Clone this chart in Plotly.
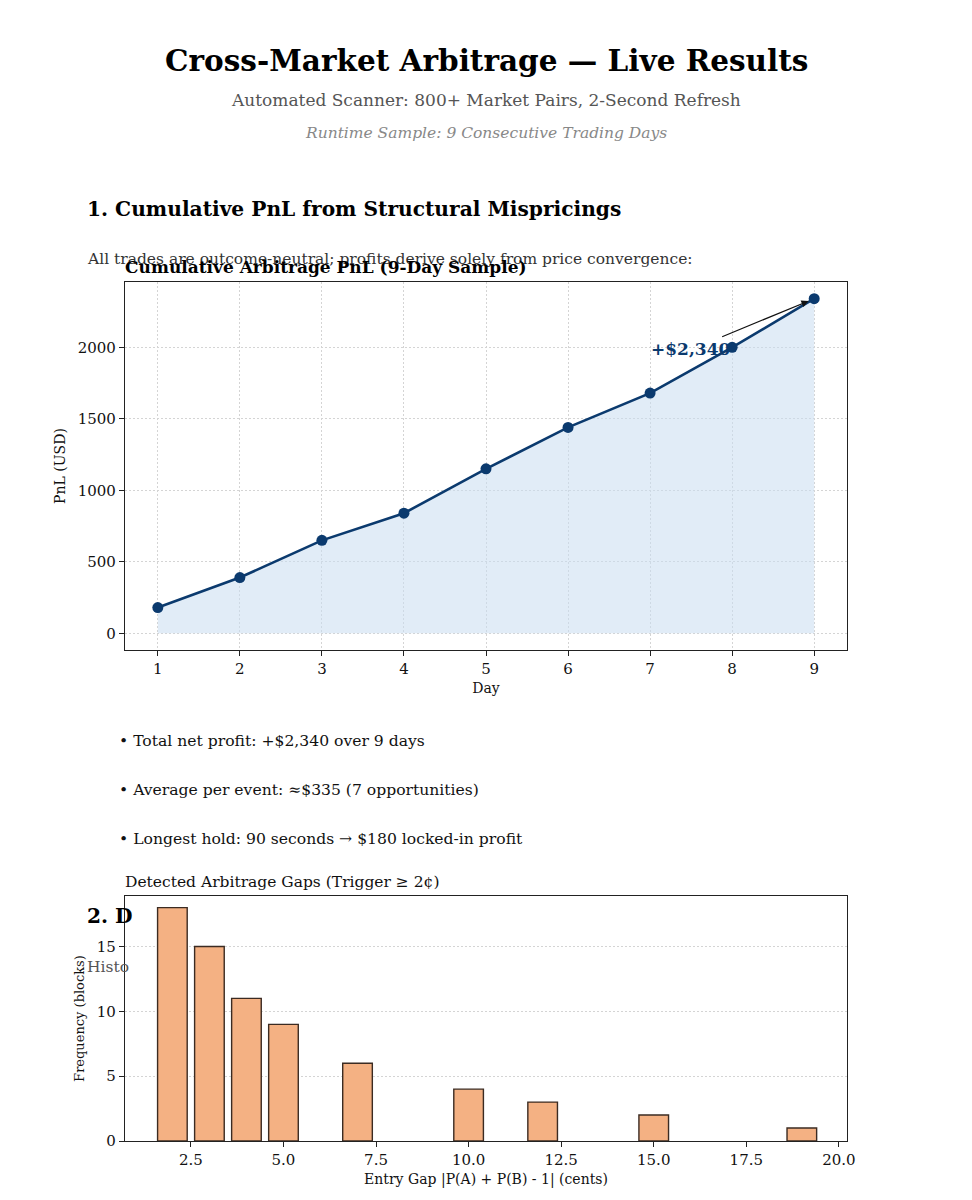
import plotly.graph_objects as go

W, H = 972, 1200

days = [1, 2, 3, 4, 5, 6, 7, 8, 9]
pnl = [180, 390, 650, 840, 1150, 1440, 1680, 2000, 2340]

gap_cents = [2, 3, 4, 5, 7, 10, 12, 15, 19]
gap_counts = [18, 15, 11, 9, 6, 4, 3, 2, 1]

x_ticks2 = [2.5, 5.0, 7.5, 10.0, 12.5, 15.0, 17.5, 20.0]
x_ticklabels2 = ["2.5", "5.0", "7.5", "10.0", "12.5", "15.0", "17.5", "20.0"]

FONT = "DejaVu Serif"
NAVY = "#0b3a6e"
GRID_DASH = "1.5px,2.5px"


def px(x):
    return x / W


def py(y):
    return 1 - y / H


fig = go.Figure()

fig.add_trace(go.Scatter(
    x=days, y=pnl, mode="lines+markers",
    line=dict(color=NAVY, width=2.6),
    marker=dict(color=NAVY, size=11),
    fill="tozeroy", fillcolor="rgba(200,220,240,0.55)",
    xaxis="x", yaxis="y", showlegend=False, hoverinfo="skip",
))

fig.add_trace(go.Bar(
    x=gap_cents, y=gap_counts, width=0.8,
    marker=dict(color="#f4b183", line=dict(color="#3b2b22", width=1.4)),
    xaxis="x2", yaxis="y2", showlegend=False, hoverinfo="skip",
))

axis_common = dict(
    showline=True, linecolor="#222", linewidth=1.2, mirror=True,
    ticks="outside", ticklen=5, tickcolor="#222",
    tickfont=dict(family=FONT, size=15, color="#111"),
    zeroline=False, automargin=False,
)

fig.update_layout(
    width=W, height=H,
    margin=dict(l=0, r=0, t=0, b=0, autoexpand=False),
    paper_bgcolor="white", plot_bgcolor="white",
    font=dict(family=FONT),
    xaxis=dict(domain=[px(125), px(847)], anchor="y", range=[0.6, 9.4],
               tickvals=days, showgrid=True, gridcolor="#d4d4d4", griddash=GRID_DASH,
               title=dict(text="Day", font=dict(family=FONT, size=14, color="#111"), standoff=6),
               **axis_common),
    yaxis=dict(domain=[py(650), py(282)], anchor="x", range=[-117, 2457],
               tickvals=[0, 500, 1000, 1500, 2000], showgrid=True, gridcolor="#d4d4d4", griddash=GRID_DASH,
               title=dict(text="PnL (USD)", font=dict(family=FONT, size=14, color="#111"), standoff=8),
               **axis_common),
    xaxis2=dict(domain=[px(125), px(847)], anchor="y2", range=[0.72, 20.22],
                tickvals=x_ticks2, ticktext=x_ticklabels2, showgrid=False,
                title=dict(text="Entry Gap |P(A) + P(B) - 1| (cents)", font=dict(family=FONT, size=14, color="#111"), standoff=6),
                **axis_common),
    yaxis2=dict(domain=[py(1141), py(896)], anchor="x2", range=[0, 18.9],
                tickvals=[0, 5, 10, 15], showgrid=True, gridcolor="#d4d4d4", griddash=GRID_DASH,
                title=dict(text="Frequency (blocks)", font=dict(family=FONT, size=13, color="#111"), standoff=9),
                **axis_common),
)


def text(x, y, s, size, color="#000", bold=False, italic=False, xanchor="left"):
    if xanchor == "left":
        x -= 2
    fig.add_annotation(
        x=px(x), y=py(y), xref="paper", yref="paper", showarrow=False,
        text=("<b>%s</b>" % s) if bold else (("<i>%s</i>" % s) if italic else s),
        xanchor=xanchor, yanchor="middle",
        font=dict(family=FONT, size=size, color=color),
    )


text(486, 61, "Cross-Market Arbitrage — Live Results", 29.5, bold=True, xanchor="center")
text(486, 100, "Automated Scanner: 800+ Market Pairs, 2-Second Refresh", 17, color="#555", xanchor="center")
text(486, 133, "Runtime Sample: 9 Consecutive Trading Days", 15.5, color="#888", italic=True, xanchor="center")
text(87, 209, "1. Cumulative PnL from Structural Mispricings", 20.2, bold=True)
text(87, 259, "All trades are outcome-neutral; profits derive solely from price convergence:", 15.5, color="#333")
text(125, 267, "Cumulative Arbitrage PnL (9-Day Sample)", 17, bold=True)

text(119, 741, "• Total net profit: +$2,340 over 9 days", 15.6, color="#111")
text(119, 790, "• Average per event: ≈$335 (7 opportunities)", 15.6, color="#111")
text(119, 839, "• Longest hold: 90 seconds → $180 locked-in profit", 15.6, color="#111")

text(87, 916, "2. D", 20.2, bold=True)
text(87, 967, "Histo", 15.5, color="#555")
text(125, 882, "Detected Arbitrage Gaps (Trigger ≥ 2¢)", 15.5, color="#111")

# annotation on the PnL chart
fig.add_annotation(
    x=7.49, y=1986, xref="x", yref="y", showarrow=False,
    text="<b>+$2,340</b>", xanchor="center", yanchor="middle",
    font=dict(family=FONT, size=17, color=NAVY),
)
fig.add_annotation(
    x=days[-1], y=pnl[-1], xref="x", yref="y",
    ax=7.86, ay=2070, axref="x", ayref="y",
    text="", showarrow=True, arrowhead=2, arrowsize=1.2, arrowwidth=1.2,
    arrowcolor="#111", standoff=6,
)

post = (
    "document.documentElement.style.margin='0';"
    "document.body.style.margin='0';"
)

fig.write_html("out.html", config={"displayModeBar": False}, post_script=post)
